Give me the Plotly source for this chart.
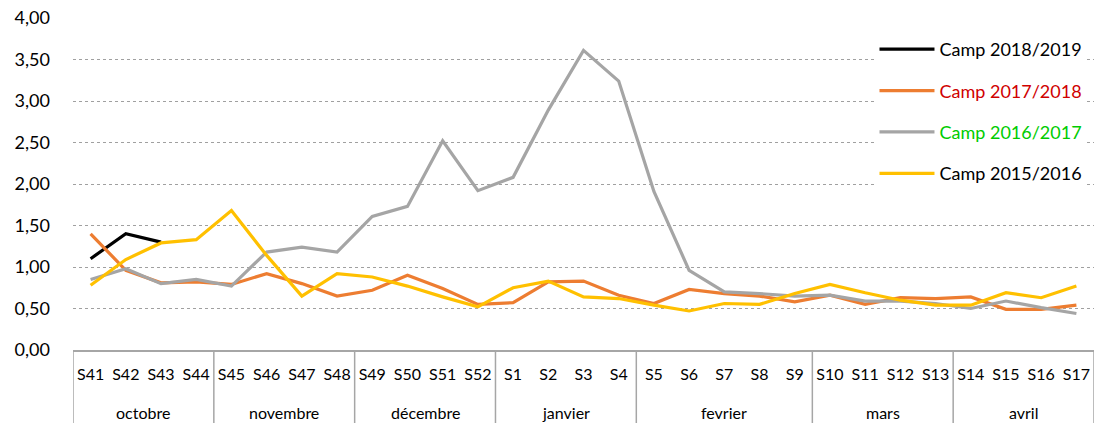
import plotly.graph_objects as go

weeks = ["S41", "S42", "S43", "S44", "S45", "S46", "S47", "S48", "S49", "S50", "S51", "S52",
         "S1", "S2", "S3", "S4", "S5", "S6", "S7", "S8", "S9", "S10", "S11", "S12", "S13",
         "S14", "S15", "S16", "S17"]
month_names = ["octobre", "novembre", "décembre", "janvier", "fevrier", "mars", "avril"]
month_lengths = [4, 4, 4, 4, 5, 4, 4]

camp_2018_2019 = [1.10, 1.40, 1.30]
camp_2017_2018 = [1.40, 0.96, 0.81, 0.82, 0.79, 0.92, 0.80, 0.65, 0.72, 0.90, 0.74, 0.55,
                  0.57, 0.82, 0.83, 0.66, 0.56, 0.73, 0.68, 0.65, 0.58, 0.66, 0.55, 0.63,
                  0.62, 0.64, 0.49, 0.49, 0.54]
camp_2016_2017 = [0.85, 0.98, 0.80, 0.85, 0.77, 1.18, 1.24, 1.18, 1.61, 1.73, 2.52, 1.92,
                  2.08, 2.89, 3.61, 3.24, 1.91, 0.96, 0.70, 0.68, 0.65, 0.66, 0.59, 0.59,
                  0.56, 0.50, 0.59, 0.51, 0.44]
camp_2015_2016 = [0.78, 1.09, 1.29, 1.33, 1.68, 1.14, 0.65, 0.92, 0.88, 0.77, 0.64, 0.52,
                  0.75, 0.83, 0.64, 0.62, 0.54, 0.47, 0.56, 0.55, 0.68, 0.79, 0.69, 0.60,
                  0.54, 0.54, 0.69, 0.63, 0.77]

series = [
    ("Camp 2018/2019", camp_2018_2019, "#000000", "#000000"),
    ("Camp 2017/2018", camp_2017_2018, "#ED7D31", "#D00000"),
    ("Camp 2016/2017", camp_2016_2017, "#A5A5A5", "#00CC00"),
    ("Camp 2015/2016", camp_2015_2016, "#FFC000", "#000000"),
]

FONT = "Lato"
DIV = "#A6A6A6"
fig = go.Figure()
for i, (name, vals, color, tcolor) in enumerate(series):
    n = len(vals)
    fig.add_trace(go.Scatter(
        x=weeks[:n], y=vals, mode="lines",
        name=f"<span style='color:{tcolor}'>{name}</span>",
        line=dict(color=color, width=3.2),
        legendgroup=f"g{i}",
    ))

# month group labels and dividers
start = 0
bounds = [-0.5]
for name, ln in zip(month_names, month_lengths):
    center = start + (ln - 1) / 2
    fig.add_annotation(x=center, y=-0.187, xref="x", yref="paper", text=name,
                       showarrow=False, yanchor="middle", xanchor="center",
                       font=dict(size=16, family=FONT, color="#000000"))
    start += ln
    bounds.append(start - 0.5)
for b in bounds:
    fig.add_shape(type="line", x0=b, x1=b, y0=0, y1=-0.25, xref="x", yref="paper",
                  line=dict(color=DIV, width=1.5), layer="above")

fig.update_layout(
    width=1095, height=423,
    margin=dict(l=73, r=1, t=18, b=73, autoexpand=False),
    paper_bgcolor="white", plot_bgcolor="white",
    separators=", ",
    font=dict(family=FONT, color="#000000"),
    showlegend=True,
    legend=dict(x=0.785, y=0.961, xanchor="left", yanchor="top",
                bgcolor="white", font=dict(size=18, family=FONT),
                tracegroupgap=15, itemwidth=55),
    xaxis=dict(type="category", categoryorder="array", categoryarray=weeks,
               range=[-0.5, len(weeks) - 0.5], showgrid=False, showline=True,
               linecolor=DIV, linewidth=1.5, ticks="", automargin=False,
               tickfont=dict(size=16, family=FONT), ticklabelstandoff=9),
    yaxis=dict(range=[0, 4], tickvals=[0, 0.5, 1, 1.5, 2, 2.5, 3, 3.5, 4],
               tickformat=".2f", showgrid=True, gridcolor="#A0A0A0", automargin=False,
               griddash="dot", gridwidth=1, zeroline=False, showline=False,
               tickfont=dict(size=18, family=FONT), ticklabelstandoff=22),
)

fig.write_html("out.html", config={"displayModeBar": False},
               post_script="document.body.style.margin='0px';document.body.style.overflow='hidden';")
